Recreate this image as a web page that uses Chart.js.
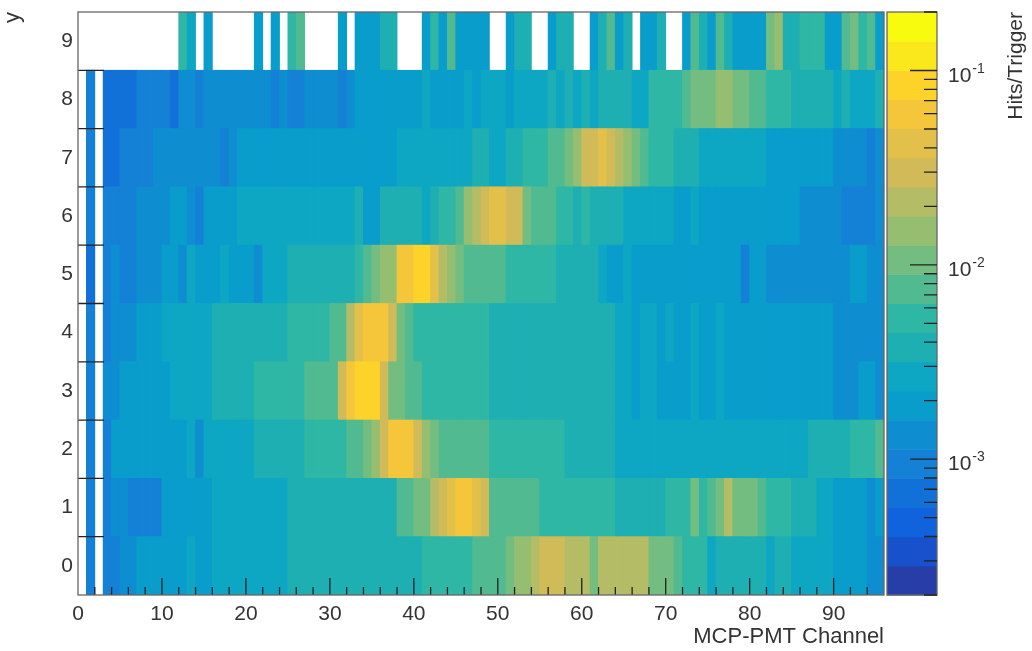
<!DOCTYPE html>
<html>
<head>
<meta charset="utf-8">
<script src="https://cdn.jsdelivr.net/npm/chart.js@4.4.0/dist/chart.umd.min.js"></script>
<style>
  body { margin: 0; background: #fff; }
  canvas { display: block; }
</style>
</head>
<body>
<canvas id="myChart" width="1032" height="651"></canvas>
<script>
// hits per trigger, one array per y row, index = MCP-PMT channel (0..95), null = empty bin
const row0 = [null, 0.00095, null, 0.00095, 0.00095, 0.0013, 0.0013, 0.0019, 0.0019, 0.0019,
  0.0019, 0.0019, 0.0019, 0.0027, 0.0019, 0.0019, 0.0027, 0.0027, 0.0027, 0.0027,
  0.0027, 0.0027, 0.0027, 0.0027, 0.0027, 0.0038, 0.0038, 0.0038, 0.0038, 0.0038,
  0.0038, 0.0038, 0.0038, 0.0038, 0.0038, 0.0038, 0.0038, 0.0038, 0.0038, 0.0038,
  0.0038, 0.0053, 0.0053, 0.0053, 0.0053, 0.0053, 0.0053, 0.0075, 0.0075, 0.0075,
  0.0075, 0.011, 0.015, 0.015, 0.021, 0.030, 0.030, 0.030, 0.021, 0.021,
  0.021, 0.011, 0.021, 0.021, 0.021, 0.021, 0.021, 0.021, 0.011, 0.011,
  0.011, 0.0075, 0.0053, 0.0053, 0.0053, 0.0027, 0.0038, 0.0038, 0.0038, 0.0038,
  0.0038, 0.0038, 0.0027, 0.0038, 0.0038, 0.0027, 0.0027, 0.0027, 0.0027, 0.0027,
  0.0019, 0.0019, 0.0019, 0.0019, 0.0013, 0.0013];
const row1 = [null, 0.00095, null, 0.00095, 0.0013, 0.0013, 0.00095, 0.00095, 0.00095, 0.00095,
  0.0019, 0.0019, 0.0019, 0.0019, 0.0019, 0.0019, 0.0027, 0.0027, 0.0027, 0.0027,
  0.0027, 0.0027, 0.0027, 0.0027, 0.0027, 0.0038, 0.0038, 0.0038, 0.0038, 0.0038,
  0.0038, 0.0038, 0.0038, 0.0038, 0.0038, 0.0038, 0.0038, 0.0038, 0.0075, 0.0075,
  0.011, 0.011, 0.021, 0.030, 0.042, 0.060, 0.060, 0.042, 0.030, 0.0075,
  0.0075, 0.0075, 0.0075, 0.0075, 0.0075, 0.0053, 0.0053, 0.0053, 0.0053, 0.0053,
  0.0053, 0.0053, 0.0053, 0.0053, 0.0038, 0.0038, 0.0038, 0.0038, 0.0038, 0.0038,
  0.0053, 0.0053, 0.0053, 0.011, 0.0053, 0.0075, 0.011, 0.021, 0.011, 0.011,
  0.011, 0.0075, 0.0053, 0.0053, 0.0053, 0.0038, 0.0038, 0.0038, 0.0027, 0.0027,
  0.0019, 0.0019, 0.0019, 0.0019, 0.0013, 0.0019];
const row2 = [null, 0.00095, null, 0.00095, 0.0019, 0.0019, 0.0019, 0.0019, 0.0019, 0.0019,
  0.0019, 0.0019, 0.0019, 0.0027, 0.0013, 0.0027, 0.0027, 0.0027, 0.0027, 0.0027,
  0.0027, 0.0038, 0.0038, 0.0038, 0.0038, 0.0038, 0.0038, 0.0053, 0.0053, 0.0053,
  0.0053, 0.0053, 0.0075, 0.0075, 0.011, 0.015, 0.030, 0.060, 0.060, 0.060,
  0.030, 0.015, 0.011, 0.0075, 0.0075, 0.0075, 0.0075, 0.0075, 0.0075, 0.0053,
  0.0053, 0.0053, 0.0053, 0.0053, 0.0053, 0.0053, 0.0053, 0.0053, 0.0038, 0.0038,
  0.0038, 0.0038, 0.0038, 0.0038, 0.0027, 0.0027, 0.0027, 0.0027, 0.0027, 0.0027,
  0.0027, 0.0027, 0.0027, 0.0027, 0.0027, 0.0027, 0.0027, 0.0027, 0.0027, 0.0027,
  0.0027, 0.0027, 0.0027, 0.0027, 0.0027, 0.0027, 0.0027, 0.0038, 0.0038, 0.0038,
  0.0038, 0.0038, 0.0053, 0.0053, 0.0053, 0.0075];
const row3 = [null, 0.00095, null, 0.0013, 0.0013, 0.0019, 0.0019, 0.0019, 0.0019, 0.0019,
  0.0019, 0.0027, 0.0027, 0.0027, 0.0027, 0.0027, 0.0038, 0.0038, 0.0038, 0.0038,
  0.0038, 0.0053, 0.0053, 0.0053, 0.0053, 0.0053, 0.0053, 0.0075, 0.0075, 0.0075,
  0.0075, 0.030, 0.060, 0.084, 0.084, 0.084, 0.030, 0.011, 0.011, 0.0075,
  0.0075, 0.0053, 0.0053, 0.0053, 0.0053, 0.0053, 0.0053, 0.0053, 0.0053, 0.0038,
  0.0038, 0.0038, 0.0038, 0.0038, 0.0038, 0.0038, 0.0038, 0.0038, 0.0038, 0.0038,
  0.0038, 0.0038, 0.0038, 0.0038, 0.0027, 0.0027, 0.0019, 0.0027, 0.0027, 0.0019,
  0.0019, 0.0019, 0.0019, 0.0027, 0.0019, 0.0019, 0.0027, 0.0019, 0.0019, 0.0019,
  0.0019, 0.0019, 0.0019, 0.0019, 0.0019, 0.0019, 0.0019, 0.0019, 0.0019, 0.0019,
  0.0013, 0.0013, 0.0013, 0.0019, 0.0019, 0.0013];
const row4 = [null, 0.00095, null, 0.00095, 0.0013, 0.0013, 0.0013, 0.0019, 0.0019, 0.0019,
  0.0027, 0.0027, 0.0027, 0.0027, 0.0027, 0.0027, 0.0038, 0.0038, 0.0038, 0.0038,
  0.0038, 0.0038, 0.0038, 0.0038, 0.0038, 0.0053, 0.0053, 0.0053, 0.0053, 0.0053,
  0.0075, 0.0075, 0.021, 0.042, 0.060, 0.060, 0.060, 0.030, 0.011, 0.0075,
  0.0053, 0.0053, 0.0053, 0.0053, 0.0053, 0.0053, 0.0053, 0.0053, 0.0053, 0.0038,
  0.0038, 0.0038, 0.0038, 0.0038, 0.0038, 0.0038, 0.0038, 0.0038, 0.0038, 0.0038,
  0.0038, 0.0038, 0.0038, 0.0038, 0.0027, 0.0027, 0.0019, 0.0027, 0.0027, 0.0019,
  0.0027, 0.0019, 0.0019, 0.0027, 0.0019, 0.0019, 0.0027, 0.0019, 0.0019, 0.0019,
  0.0019, 0.0019, 0.0019, 0.0019, 0.0019, 0.0019, 0.0019, 0.0019, 0.0019, 0.0019,
  0.0013, 0.0013, 0.0013, 0.0013, 0.0013, 0.0013];
const row5 = [null, 0.00067, null, 0.00095, 0.0013, 0.00095, 0.00095, 0.0013, 0.0013, 0.0013,
  0.0019, 0.0019, 0.0013, 0.0027, 0.0019, 0.0019, 0.0019, 0.0027, 0.0019, 0.0019,
  0.0019, 0.0013, 0.0027, 0.0027, 0.0027, 0.0038, 0.0038, 0.0038, 0.0038, 0.0038,
  0.0038, 0.0038, 0.0038, 0.0053, 0.0075, 0.011, 0.015, 0.015, 0.060, 0.060,
  0.084, 0.084, 0.042, 0.021, 0.015, 0.011, 0.0075, 0.0075, 0.0075, 0.0075,
  0.0075, 0.0053, 0.0053, 0.0053, 0.0053, 0.0053, 0.0053, 0.0038, 0.0038, 0.0038,
  0.0038, 0.0038, 0.0027, 0.0019, 0.0019, 0.0027, 0.0019, 0.0019, 0.0019, 0.0019,
  0.0019, 0.0019, 0.0019, 0.0019, 0.0019, 0.0019, 0.0019, 0.0019, 0.0019, 0.00095,
  0.0019, 0.0019, 0.0013, 0.0013, 0.0013, 0.0013, 0.0013, 0.0013, 0.0013, 0.0013,
  0.0013, 0.0013, 0.0019, 0.0019, 0.0013, 0.0013];
const row6 = [null, 0.00095, null, 0.00095, 0.00095, 0.00095, 0.00095, 0.0013, 0.0013, 0.0013,
  0.0013, 0.0019, 0.0019, 0.0013, 0.00095, 0.0019, 0.0019, 0.0019, 0.0019, 0.0027,
  0.0027, 0.0027, 0.0027, 0.0027, 0.0027, 0.0027, 0.0027, 0.0027, 0.0027, 0.0027,
  0.0027, 0.0027, 0.0027, 0.0038, 0.0019, 0.0019, 0.0038, 0.0038, 0.0038, 0.0038,
  0.0038, 0.0027, 0.0038, 0.0053, 0.0053, 0.0075, 0.015, 0.021, 0.030, 0.042,
  0.042, 0.030, 0.030, 0.011, 0.0075, 0.0075, 0.0075, 0.0053, 0.0053, 0.0038,
  0.0053, 0.0038, 0.0038, 0.0038, 0.0038, 0.0027, 0.0027, 0.0027, 0.0027, 0.0027,
  0.0027, 0.0019, 0.0019, 0.0027, 0.0019, 0.0019, 0.0019, 0.0019, 0.0019, 0.0019,
  0.0019, 0.0019, 0.0019, 0.0019, 0.0019, 0.0019, 0.0013, 0.0013, 0.0013, 0.0013,
  0.0013, 0.00095, 0.00095, 0.00095, 0.00095, 0.0013];
const row7 = [null, 0.00095, null, 0.00067, 0.00067, 0.00095, 0.00095, 0.00095, 0.00095, 0.0013,
  0.0013, 0.0013, 0.0013, 0.0013, 0.0013, 0.0013, 0.0013, 0.00095, 0.0013, 0.0019,
  0.0019, 0.0019, 0.0019, 0.0019, 0.0019, 0.0019, 0.0019, 0.0019, 0.0019, 0.0019,
  0.0019, 0.0019, 0.0019, 0.0019, 0.0019, 0.0019, 0.0019, 0.0019, 0.0027, 0.0027,
  0.0027, 0.0027, 0.0027, 0.0027, 0.0027, 0.0027, 0.0027, 0.0038, 0.0038, 0.0027,
  0.0027, 0.0038, 0.0038, 0.0053, 0.0053, 0.0053, 0.0075, 0.0075, 0.011, 0.015,
  0.030, 0.030, 0.042, 0.030, 0.021, 0.015, 0.011, 0.0075, 0.0053, 0.0053,
  0.0053, 0.0038, 0.0038, 0.0038, 0.0027, 0.0027, 0.0027, 0.0027, 0.0027, 0.0027,
  0.0027, 0.0027, 0.0019, 0.0019, 0.0019, 0.0019, 0.0019, 0.0019, 0.0019, 0.0019,
  0.0013, 0.0013, 0.0013, 0.0013, 0.00095, 0.0013];
const row8 = [null, 0.00095, null, 0.00067, 0.00067, 0.00067, 0.00067, 0.00095, 0.00095, 0.00095,
  0.00095, 0.00067, 0.0013, 0.0013, 0.00095, 0.0013, 0.0013, 0.0013, 0.0013, 0.0013,
  0.0013, 0.0013, 0.0013, 0.00095, 0.0013, 0.00095, 0.00095, 0.0013, 0.0013, 0.0013,
  0.0013, 0.00095, 0.0013, 0.0019, 0.0019, 0.0019, 0.0019, 0.0019, 0.0019, 0.0019,
  0.0019, 0.0027, 0.0019, 0.0019, 0.0019, 0.0019, 0.0027, 0.0019, 0.0027, 0.0027,
  0.0027, 0.0019, 0.0027, 0.0027, 0.0027, 0.0027, 0.0038, 0.0027, 0.0038, 0.0027,
  0.0038, 0.0027, 0.0038, 0.0038, 0.0038, 0.0038, 0.0027, 0.0027, 0.0053, 0.0053,
  0.0053, 0.0053, 0.0075, 0.011, 0.011, 0.011, 0.015, 0.015, 0.011, 0.011,
  0.0075, 0.0075, 0.0053, 0.0053, 0.0053, 0.0038, 0.0038, 0.0038, 0.0038, 0.0038,
  0.0027, 0.0038, 0.0027, 0.0027, 0.0027, 0.0038];
const row9 = [null, null, null, null, null, null, null, null, null, null,
  null, null, 0.0053, 0.0027, null, 0.0019, null, null, null, null,
  null, 0.0019, null, 0.0019, null, 0.0053, 0.0075, null, null, null,
  null, 0.0019, null, 0.0019, 0.0019, 0.0019, 0.0038, 0.0038, null, null,
  null, 0.0019, 0.0053, 0.0019, 0.0075, 0.0019, 0.0019, 0.0019, 0.0019, null,
  null, 0.0019, 0.0038, 0.0038, null, null, 0.0019, 0.0038, 0.0038, null,
  null, 0.0019, 0.0038, 0.0075, 0.0019, 0.0038, null, 0.0019, 0.0019, 0.0038,
  null, null, 0.0019, 0.0075, 0.0038, 0.0019, 0.0075, 0.0038, 0.0019, 0.0019,
  0.0019, 0.0019, 0.011, 0.015, 0.0038, 0.0038, 0.0053, 0.0053, 0.0053, 0.0019,
  0.0019, 0.0075, 0.011, 0.0053, 0.0075, 0.0019];

const rows = [row0, row1, row2, row3, row4, row5, row6, row7, row8, row9];
const rowLabels = ['0', '1', '2', '3', '4', '5', '6', '7', '8', '9'];
const channels = 96;
const xTicks = [0, 10, 20, 30, 40, 50, 60, 70, 80, 90];

// colour axis (log z)
const zMin = 2e-4;
const zMax = 0.2;
const nLevels = 20;

// ROOT kBird palette
const birdStops = [0.0, 0.125, 0.25, 0.375, 0.5, 0.625, 0.75, 0.875, 1.0];
const birdR = [0.2082, 0.0592, 0.0780, 0.0232, 0.1802, 0.5301, 0.8186, 0.9956, 0.9764];
const birdG = [0.1664, 0.3599, 0.5041, 0.6419, 0.7178, 0.7492, 0.7328, 0.7862, 0.9832];
const birdB = [0.5293, 0.8684, 0.8385, 0.7914, 0.6425, 0.4662, 0.3499, 0.1968, 0.0539];

function birdColor(f) {
    let i = 0;
    while (i < birdStops.length - 2 && f > birdStops[i + 1]) i++;
    const t = (f - birdStops[i]) / (birdStops[i + 1] - birdStops[i]);
    const c = arr => Math.round(255 * (arr[i] + (arr[i + 1] - arr[i]) * t));
    return 'rgb(' + c(birdR) + ',' + c(birdG) + ',' + c(birdB) + ')';
}

function levelOf(v) {
    const lmin = Math.log10(zMin), lmax = Math.log10(zMax);
    const lv = Math.floor((Math.log10(v) - lmin) / (lmax - lmin) * nLevels);
    return Math.min(nLevels - 1, Math.max(0, lv));
}

function levelColor(v) {
    const idx = Math.floor((levelOf(v) + 0.99) * 255 / nLevels);
    return birdColor(idx / 254);
}

Chart.defaults.font.family = '"Liberation Sans", Arial, sans-serif';
Chart.defaults.color = '#333';

const datasets = rows.map((vals, r) => ({
    label: 'y = ' + rowLabels[r],
    data: vals.map((v, c) => v == null ? null : { x: c + 0.5, y: [r - 0.5, r + 0.5], v: v })
              .filter(p => p !== null),
    backgroundColor: ctx => ctx.raw ? levelColor(ctx.raw.v) : 'rgba(0,0,0,0)',
    borderWidth: 0,
    grouped: false,
    barPercentage: 1,
    categoryPercentage: 1,
    inflateAmount: 0.4,
}));

// frame, inside ticks and the colour bar, ROOT style
const rootFrame = {
    id: 'rootFrame',
    afterDatasetsDraw(chart) {
        const { ctx, chartArea: area, scales } = chart;
        const x = scales.x, y = scales.y, z = scales.z;
        ctx.save();

        ctx.lineWidth = 1.3;
        ctx.strokeStyle = '#222';
        ctx.beginPath();
        for (let v = 2; v < channels; v += 2) {
            const px = x.getPixelForValue(v);
            ctx.moveTo(px, area.bottom);
            ctx.lineTo(px, area.bottom - (v % 10 === 0 ? 17 : 8));
        }
        for (let r = 0; r < rowLabels.length - 1; r++) {
            const py = y.getPixelForValue(r + 0.5);
            ctx.moveTo(area.left, py);
            ctx.lineTo(area.left + 26, py);
        }
        ctx.stroke();

        ctx.strokeStyle = '#666';
        ctx.strokeRect(area.left, area.top, area.right - area.left, area.bottom - area.top);

        // colour bar
        const barL = area.right + 3, barW = 50, barR = barL + barW;
        const lmin = Math.log10(zMin), lmax = Math.log10(zMax);
        for (let i = 0; i < nLevels; i++) {
            const lo = Math.pow(10, lmin + (lmax - lmin) * i / nLevels);
            const hi = Math.pow(10, lmin + (lmax - lmin) * (i + 1) / nLevels);
            const y0 = z.getPixelForValue(lo), y1 = z.getPixelForValue(hi);
            ctx.fillStyle = levelColor(Math.sqrt(lo * hi));
            ctx.fillRect(barL, y1, barW, y0 - y1 + 0.5);
        }
        ctx.strokeStyle = '#666';
        ctx.strokeRect(barL, area.top, barW, area.bottom - area.top);

        ctx.strokeStyle = '#222';
        ctx.beginPath();
        for (let d = -4; d <= -1; d++) {
            for (let k = 1; k <= 9; k++) {
                const v = k * Math.pow(10, d);
                if (v < zMin * 0.999 || v > zMax * 1.001) continue;
                const py = z.getPixelForValue(v);
                ctx.moveTo(barR, py);
                ctx.lineTo(barR - (k === 1 ? 27 : 13), py);
            }
        }
        ctx.stroke();

        ctx.fillStyle = '#333';
        ctx.textAlign = 'left';
        ctx.textBaseline = 'alphabetic';
        for (let d = -3; d <= -1; d++) {
            const py = z.getPixelForValue(Math.pow(10, d));
            ctx.font = '21px "Liberation Sans", Arial, sans-serif';
            ctx.fillText('10', barR + 11, py + 11);
            const w = ctx.measureText('10').width;
            ctx.font = '14px "Liberation Sans", Arial, sans-serif';
            ctx.fillText(String(d), barR + 11 + w + 1, py + 2);
        }

        ctx.translate(1016, area.top);
        ctx.rotate(-Math.PI / 2);
        ctx.font = '21px "Liberation Sans", Arial, sans-serif';
        ctx.textAlign = 'right';
        ctx.textBaseline = 'middle';
        ctx.fillText('Hits/Trigger', 0, 0);

        ctx.restore();
    }
};

const config = {
    type: 'bar',
    data: { datasets: datasets },
    options: {
        responsive: false,
        animation: false,
        layout: { padding: { left: 0, right: 148, top: 12, bottom: 1 } },
        plugins: {
            legend: { display: false },
            tooltip: { enabled: false },
        },
        scales: {
            x: {
                type: 'linear',
                min: 0,
                max: channels,
                offset: false,
                grid: { display: false, drawTicks: false },
                border: { display: false },
                afterBuildTicks: s => { s.ticks = xTicks.map(v => ({ value: v })); },
                ticks: { font: { size: 21 }, padding: 7, maxRotation: 0, autoSkip: false },
                title: { display: true, text: 'MCP-PMT Channel', align: 'end', font: { size: 22 }, padding: 0 },
                afterFit: s => { s.height = 55; s.paddingLeft = 0; s.paddingRight = 0; },
            },
            y: {
                type: 'linear',
                min: -0.5,
                max: 9.5,
                grid: { display: false, drawTicks: false },
                border: { display: false },
                afterBuildTicks: s => { s.ticks = rowLabels.map((t, i) => ({ value: i })); },
                ticks: { font: { size: 21 }, padding: 5, callback: v => rowLabels[v] },
                title: { display: true, text: 'y', align: 'end', font: { size: 22 }, padding: 0 },
                afterFit: s => { s.width = 78; s.paddingTop = 0; s.paddingBottom = 0; },
            },
            z: {
                type: 'logarithmic',
                position: 'right',
                display: false,
                min: zMin,
                max: zMax,
            },
        },
    },
    plugins: [rootFrame],
};

const chart = new Chart(document.getElementById('myChart').getContext('2d'), config);
</script>
</body>
</html>
